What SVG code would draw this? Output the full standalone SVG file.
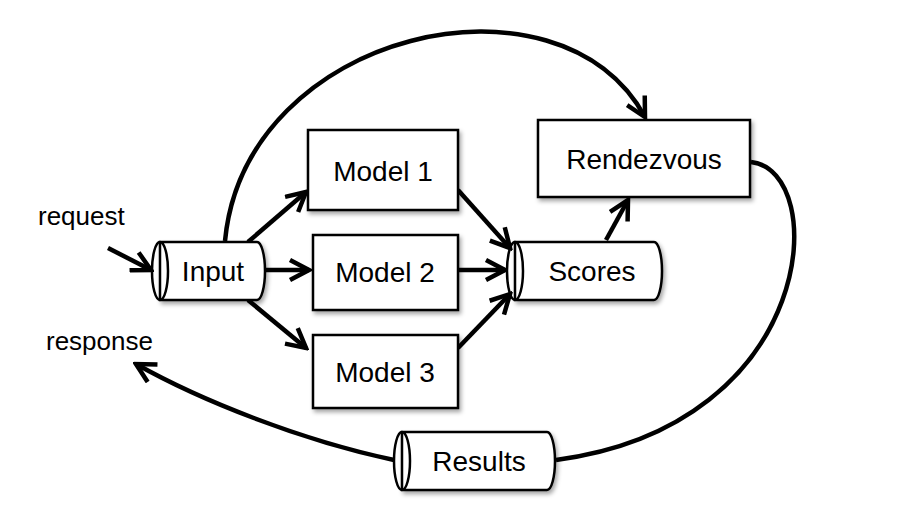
<svg xmlns="http://www.w3.org/2000/svg" width="904" height="516" viewBox="0 0 904 516">
<defs>
<marker id="a" viewBox="0 0 24 24" refX="21" refY="12" markerWidth="24" markerHeight="24" markerUnits="userSpaceOnUse" orient="auto">
<path d="M2,2 L21,12 L2,22" fill="none" stroke="#000" stroke-width="4.5" stroke-linejoin="miter"/>
</marker>
<filter id="sh" x="-10%" y="-10%" width="130%" height="130%"><feDropShadow dx="2" dy="3" stdDeviation="2" flood-opacity="0.35"/></filter>
</defs>
<style>
.b{fill:#fff;stroke:#000;stroke-width:2.5;filter:url(#sh)}
.c{fill:none;stroke:#000;stroke-width:2.5}
.t{font-family:"Liberation Sans",Arial,sans-serif;font-size:28px;fill:#000;text-anchor:middle}
.l{font-family:"Liberation Sans",Arial,sans-serif;font-size:26px;fill:#000}
.e{fill:none;stroke:#000;stroke-width:4.5;marker-end:url(#a)}
</style>
<rect width="904" height="516" fill="#fff"/>
<g id="connectors">
<path class="e" d="M108,248 L151,270"/>
<path class="e" d="M248,242 L306,192"/>
<path class="e" d="M266,270 L309,270"/>
<path class="e" d="M248,300 L306,348"/>
<path class="e" d="M458,190 L510,248"/>
<path class="e" d="M458,270 L505,270"/>
<path class="e" d="M458,348 L510,294"/>
<path class="e" d="M606,240 L628,200"/>
<path class="e" d="M225,241 C245,30 560,-40 645,117"/>
<path class="e" style="marker-end:none" d="M751,162 C830,170 820,425 556,460"/>
<path class="e" d="M394,460 C300,440 200,400 136,364"/>
</g>
<g id="request"><text class="l" x="38" y="225">request</text></g>
<g id="response"><text class="l" x="46" y="350">response</text></g>
<g id="input">
<path class="b" d="M160,242 L257,242 A8,29 0 0 1 257,300 L160,300 Z"/>
<ellipse class="c" cx="160" cy="271" rx="8" ry="29"/>
<text class="t" x="213" y="281">Input</text>
</g>
<g id="model1"><rect class="b" x="308" y="130" width="150" height="80"/><text class="t" x="383" y="181">Model 1</text></g>
<g id="model2"><rect class="b" x="313" y="235" width="145" height="75"/><text class="t" x="385" y="282">Model 2</text></g>
<g id="model3"><rect class="b" x="313" y="335" width="145" height="73"/><text class="t" x="385" y="382">Model 3</text></g>
<g id="scores">
<path class="b" d="M515,242 L654,242 A8,29 0 0 1 654,300 L515,300 Z"/>
<ellipse class="c" cx="515" cy="271" rx="8" ry="29"/>
<text class="t" x="592" y="281">Scores</text>
</g>
<g id="rendezvous"><rect class="b" x="538" y="120" width="212" height="77"/><text class="t" x="644" y="169">Rendezvous</text></g>
<g id="results">
<path class="b" d="M402,432 L547,432 A8,29 0 0 1 547,490 L402,490 Z"/>
<ellipse class="c" cx="402" cy="461" rx="8" ry="29"/>
<text class="t" x="479" y="471">Results</text>
</g>
</svg>
